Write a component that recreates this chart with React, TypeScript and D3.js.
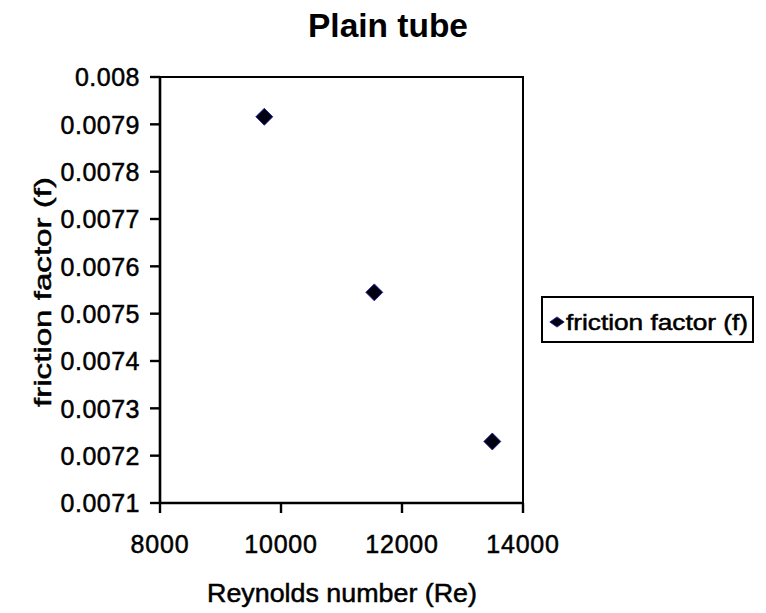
import * as d3 from "d3";

const reynolds = [9724, 11542, 13493];
const friction = [0.007916, 0.007545, 0.00723];
const xTicks = [8000, 10000, 12000, 14000];
const yTicks = [0.0071, 0.0072, 0.0073, 0.0074, 0.0075, 0.0076, 0.0077, 0.0078, 0.0079, 0.008];
const seriesName = "friction factor (f)";

const W = 766;
const H = 613;
const FONT = "'Liberation Sans', Arial, sans-serif";

export default function App() {
  const x = d3.scaleLinear().domain([8000, 14000]).range([160, 523]);
  const y = d3.scaleLinear().domain([0.0071, 0.008]).range([503, 77]);
  const diamond = d3.symbol(d3.symbolSquare, 144)() as string;
  const fmtY = (v: number) => (Math.round(v * 10000) / 10000).toString();
  // the scanned original has heavy strokes, a thin outline on text mimics it
  const heavy = { stroke: "#000", strokeWidth: 0.5 };

  return (
    <svg
      width={W}
      height={H}
      style={{ position: "absolute", left: 0, top: 0, background: "#fff" }}
      fontFamily={FONT}
    >
      <text x={388} y={37} textAnchor="middle" fontSize={34} fontWeight="bold" textLength={160} lengthAdjust="spacingAndGlyphs">
        Plain tube
      </text>

      {/* plot frame */}
      <rect x={x(8000)} y={y(0.008)} width={x(14000) - x(8000)} height={y(0.0071) - y(0.008)} fill="none" stroke="#000" strokeWidth={2} />
      <line x1={x(8000)} x2={x(8000)} y1={y(0.008) - 1} y2={y(0.0071) + 1} stroke="#000" strokeWidth={2.6} />
      <line x1={x(8000) - 1} x2={x(14000) + 1} y1={y(0.0071)} y2={y(0.0071)} stroke="#000" strokeWidth={2.6} />

      {yTicks.map((t) => (
        <g key={t}>
          <line x1={x(8000) - 10} x2={x(8000)} y1={y(t)} y2={y(t)} stroke="#000" strokeWidth={2.4} />
          <text x={140} y={y(t)} dy="0.37em" textAnchor="end" fontSize={25} letterSpacing={0.5} {...heavy}>
            {fmtY(t)}
          </text>
        </g>
      ))}

      {xTicks.map((t) => (
        <g key={t}>
          <line x1={x(t)} x2={x(t)} y1={y(0.0071)} y2={y(0.0071) + 10} stroke="#000" strokeWidth={2.4} />
          <text x={x(t)} y={553} textAnchor="middle" fontSize={25} letterSpacing={0.8} {...heavy}>
            {t}
          </text>
        </g>
      ))}

      {reynolds.map((r, i) => (
        <path
          key={r}
          d={diamond}
          transform={`translate(${x(r)},${y(friction[i])}) rotate(45)`}
          fill="#000010"
          stroke="#1a1aa0"
          strokeWidth={0.8}
        />
      ))}

      <text x={342} y={602} textAnchor="middle" fontSize={25} textLength={270} lengthAdjust="spacingAndGlyphs" {...heavy}>
        Reynolds number (Re)
      </text>
      <text
        transform="translate(51,292) rotate(-90)"
        textAnchor="middle"
        fontSize={24}
        textLength={230}
        lengthAdjust="spacingAndGlyphs"
        {...heavy}
      >
        {seriesName}
      </text>

      {/* legend */}
      <rect x={542} y={297} width={211} height={45} fill="#fff" stroke="#000" strokeWidth={2} />
      <path d={diamond} transform="translate(557,322) scale(0.85,0.6) rotate(45)" fill="#000010" stroke="#1a1aa0" strokeWidth={1} />
      <text x={566} y={330} fontSize={22} textLength={182} lengthAdjust="spacingAndGlyphs" {...heavy}>
        {seriesName}
      </text>
    </svg>
  );
}
